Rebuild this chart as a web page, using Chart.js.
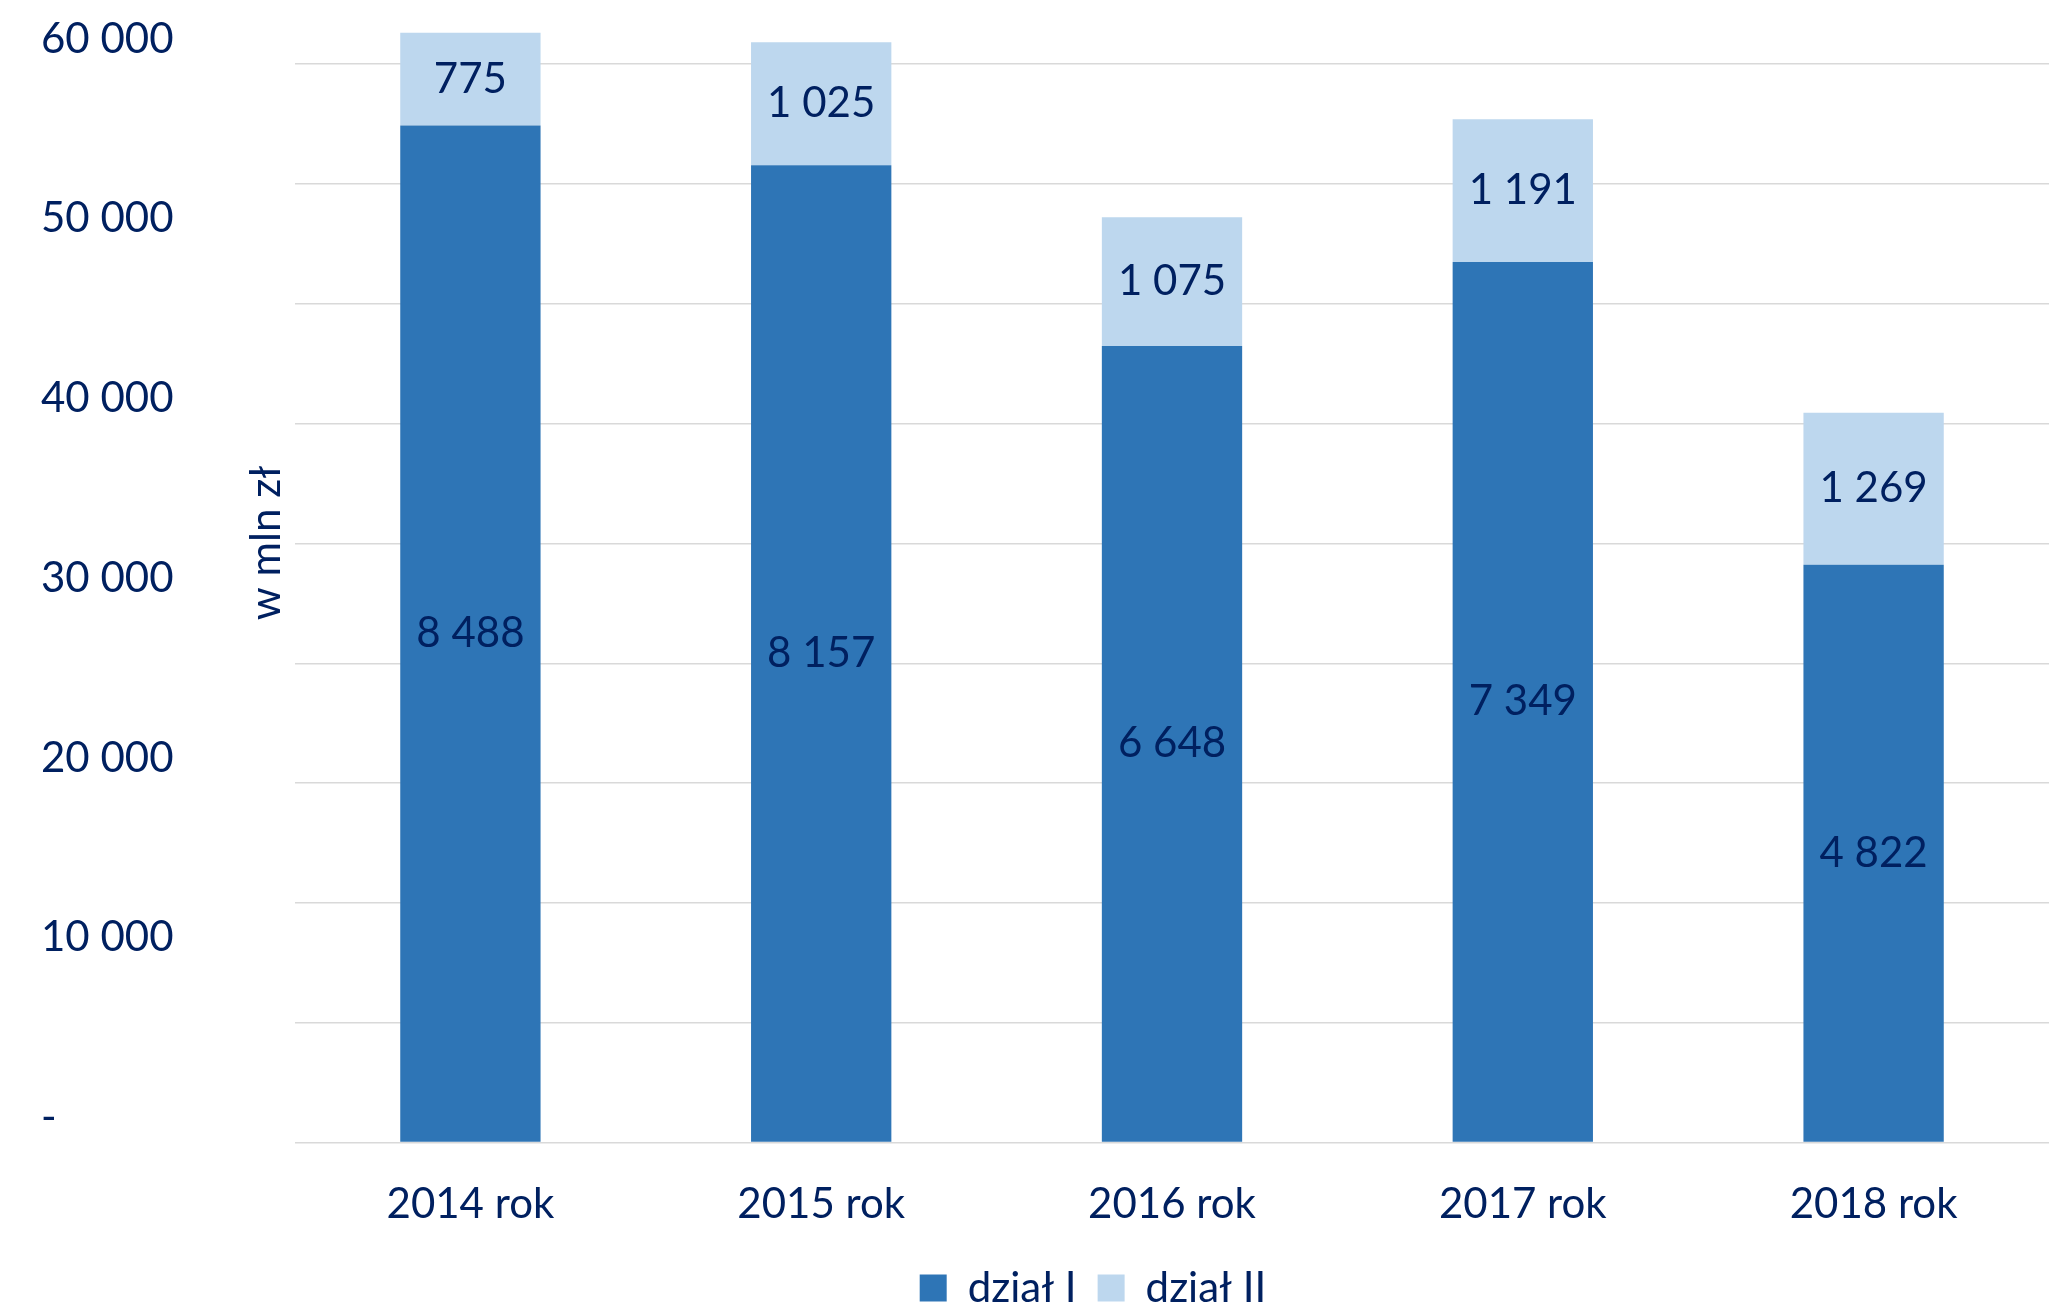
<!DOCTYPE html>
<html>
<head>
<meta charset="utf-8">
<script src="https://cdn.jsdelivr.net/npm/chart.js@4"></script>
<style>
  html, body { margin: 0; padding: 0; background: #fff; }
  canvas { display: block; }
</style>
</head>
<body>
<canvas id="chart" width="2066" height="1311"></canvas>
<script>
const categories = ['2014 rok', '2015 rok', '2016 rok', '2017 rok', '2018 rok'];
const dzialI = [8488, 8157, 6648, 7349, 4822];
const dzialII = [775, 1025, 1075, 1191, 1269];
// gridlines every 1000 up to 9000, scale runs a bit higher so the tallest bar fits
const gridStep = 1000;
const gridTop = 9000;
const scaleTop = 9300;
// labels printed on the left axis (they do not match the bar scale in the original)
const axisLabelStep = 10000;
const axisLabelTop = 60000;

const textColor = '#002060';
const fontFamily = 'Lato, "Open Sans", sans-serif';

function fmt(v) {
    return String(v).replace(/\B(?=(\d{3})+(?!\d))/g, ' ');
}

function stepTicks(step, top) {
    const out = [];
    for (let v = 0; v <= top; v += step) out.push({ value: v });
    return out;
}

const segmentLabels = {
    id: 'segmentLabels',
    afterLayout(chart) {
        // nudge legend to where it sits in the original
        const lg = chart.legend;
        lg.left += 48;
        lg.right += 48;
        lg.top += 8;
        lg.bottom += 8;
    },
    afterDatasetsDraw(chart) {
        const ctx = chart.ctx;
        ctx.save();
        ctx.font = '42px ' + fontFamily;
        ctx.fillStyle = textColor;
        ctx.textAlign = 'center';
        ctx.textBaseline = 'middle';
        chart.data.datasets.forEach((ds, i) => {
            const meta = chart.getDatasetMeta(i);
            meta.data.forEach((bar, j) => {
                const p = bar.getProps(['x', 'y', 'base'], true);
                ctx.fillText(fmt(ds.data[j]), p.x, (p.y + p.base) / 2);
            });
        });
        // axis title
        ctx.translate(266, 543);
        ctx.rotate(-Math.PI / 2);
        ctx.fillText('w mln zł', 0, 0);
        ctx.restore();
    }
};

new Chart(document.getElementById('chart'), {
    type: 'bar',
    data: {
        labels: categories,
        datasets: [
            { label: 'dział I', data: dzialI, backgroundColor: '#2E75B6' },
            { label: 'dział II', data: dzialII, backgroundColor: '#BDD7EE' }
        ]
    },
    options: {
        responsive: false,
        animation: false,
        layout: { padding: { left: 41, right: 17, top: 23, bottom: 0 } },
        datasets: {
            bar: { barPercentage: 0.4, categoryPercentage: 1 }
        },
        plugins: {
            tooltip: { enabled: false },
            legend: {
                position: 'bottom',
                labels: {
                    boxWidth: 27,
                    boxHeight: 27,
                    padding: 0,
                    color: textColor,
                    font: { family: fontFamily, size: 42 },
                    generateLabels(chart) {
                        const items = Chart.defaults.plugins.legend.labels.generateLabels(chart);
                        items[0].text += '\u2002';
                        return items;
                    }
                }
            }
        },
        scales: {
            x: {
                stacked: true,
                grid: { display: false },
                border: { display: false },
                ticks: {
                    color: textColor,
                    padding: 29,
                    font: { family: fontFamily, size: 42 }
                }
            },
            y: {
                stacked: true,
                min: 0,
                max: scaleTop,
                weight: 0,
                afterBuildTicks(scale) { scale.ticks = stepTicks(gridStep, gridTop); },
                grid: { color: '#D9D9D9', lineWidth: 1.5, drawTicks: false },
                border: { display: false },
                ticks: { display: false },
                afterFit(scale) { scale.width = 59; }
            },
            yLabels: {
                type: 'linear',
                position: 'left',
                weight: 1,
                min: 0,
                max: axisLabelTop * scaleTop / gridTop,
                afterBuildTicks(scale) { scale.ticks = stepTicks(axisLabelStep, axisLabelTop); },
                grid: { display: false, drawTicks: false },
                border: { display: false },
                ticks: {
                    crossAlign: 'far',
                    labelOffset: -25,
                    color: textColor,
                    font: { family: fontFamily, size: 42 },
                    callback: v => v === 0 ? '-' : fmt(v)
                },
                afterFit(scale) { scale.width = 195; }
            }
        }
    },
    plugins: [segmentLabels]
});
</script>
</body>
</html>
